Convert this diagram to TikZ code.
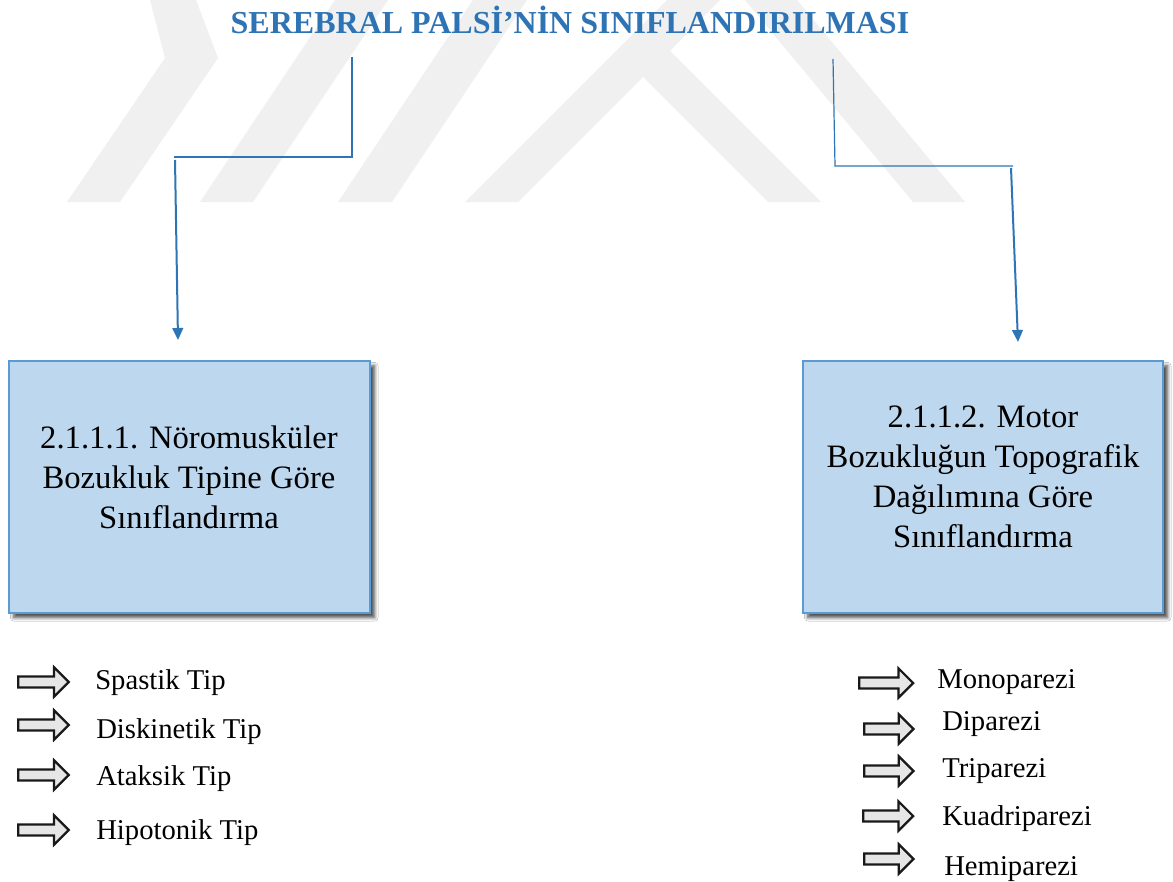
\documentclass[tikz,border=0pt]{standalone}
\usepackage{fontspec}
\setmainfont{Liberation Serif}
\usetikzlibrary{arrows.meta,shapes.arrows,shadows.blur}
\definecolor{titleblue}{HTML}{2E74B5}
\definecolor{linkblue}{HTML}{2E75B6}
\definecolor{boxfill}{HTML}{BDD7EE}
\definecolor{boxline}{HTML}{5B9BD5}
\definecolor{wmgray}{HTML}{F0F0F0}
\definecolor{tagfill}{HTML}{E7E6E6}

\begin{document}
\begin{tikzpicture}[x=0.75pt,y=-0.75pt,
  wmband/.style={fill=wmgray,draw=none},
  titletext/.style={font=\bfseries\fontsize{24pt}{28pt}\selectfont,text=titleblue,inner sep=0pt},
  link/.style={draw=linkblue,line width=0.9pt},
  drop/.style={draw=linkblue,line width=1.5pt,-{Triangle[width=8pt,length=9pt]}},
  classbox/.style={draw=boxline,line width=1.5pt,fill=boxfill,minimum height=189pt,
    blur shadow={shadow xshift=3.5pt,shadow yshift=-3.5pt,shadow blur steps=6,
                 shadow blur radius=2.5pt,shadow opacity=70}},
  boxtext/.style={align=center,font=\fontsize{24.5pt}{30pt}\selectfont,inner sep=0pt},
  tag/.style={single arrow,draw=black!90,line width=1.7pt,fill=tagfill,
    minimum height=38pt,inner xsep=0pt,inner ysep=3.2pt,
    single arrow head extend=7pt,single arrow tip angle=90,anchor=west},
  item/.style={font=\fontsize{21.5pt}{26pt}\selectfont,inner sep=0pt,anchor=west}]

\useasboundingbox (0,0) rectangle (1173,881);
\fill[white] (0,0) rectangle (1173,881);

% faint background emblem
\fill[wmband] (150,0) -- (196,0) -- (218,58) -- (120,202) -- (67,202) -- (165,58) -- cycle;
\fill[wmband] (200,202) -- (253,202) -- (388,0) -- (335,0) -- cycle;
\fill[wmband] (338,202) -- (392,202) -- (527,0) -- (473,0) -- cycle;
\fill[wmband] (465,202) -- (518,202) -- (643,77) -- (768,202) -- (821,202)
              -- (670,51) -- (720,0) -- (667,0) -- cycle;
\fill[wmband] (745,0) -- (797,0) -- (965,202) -- (913,202) -- cycle;

% title
\node[titletext,anchor=base] (title) at (570,34) {SEREBRAL PALSİ’NİN SINIFLANDIRILMASI};

% classification boxes
\node[classbox,minimum width=270.75pt] (boxL) at (189.5,487) {};
\node[classbox,minimum width=270pt] (boxR) at (983,487) {};
\node[boxtext] (txtL) at (189,477) {2.1.1.1. Nöromusküler\\Bozukluk Tipine Göre\\Sınıflandırma};
\node[boxtext] (txtR) at (983,477) {2.1.1.2. Motor\\Bozukluğun Topografik\\Dağılımına Göre\\Sınıflandırma};

% connectors from the title to the boxes
\coordinate (l0) at (352,57);
\coordinate (l1) at (352,157);
\coordinate (l2) at (174,157);
\coordinate (l3) at (175,160);
\coordinate (l4) at (178,340);
\draw[link] (l0) -- (l1) -- (l2);
\draw[drop] (l3) -- (l4);

\coordinate (r0) at (833,59);
\coordinate (r1) at (835,166);
\coordinate (r2) at (1013,166);
\coordinate (r3) at (1011,168);
\coordinate (r4) at (1018,342);
\draw[link] (r0) -- (r1) -- (r2);
\draw[drop] (r3) -- (r4);

% left list
\node[tag] (aL1) at (17,682) {};
\node[tag] (aL2) at (17,725) {};
\node[tag] (aL3) at (17,775) {};
\node[tag] (aL4) at (17,830) {};
\node[item] (iL1) at (95,683) {Spastik Tip};
\node[item] (iL2) at (96,732) {Diskinetik Tip};
\node[item] (iL3) at (96,779) {Ataksik Tip};
\node[item] (iL4) at (96,833) {Hipotonik Tip};

% right list
\node[tag,minimum height=40.5pt] (aR1) at (858,683) {};
\node[tag,minimum height=37pt] (aR2) at (863,729) {};
\node[tag,minimum height=37pt] (aR3) at (863,771) {};
\node[tag,minimum height=37.5pt] (aR4) at (862,816) {};
\node[tag,minimum height=37pt] (aR5) at (863,859) {};
\node[item] (iR1) at (937,682) {Monoparezi};
\node[item] (iR2) at (942,724) {Diparezi};
\node[item] (iR3) at (942,771) {Triparezi};
\node[item] (iR4) at (942,819) {Kuadriparezi};
\node[item] (iR5) at (944,869) {Hemiparezi};
\end{tikzpicture}
\end{document}
